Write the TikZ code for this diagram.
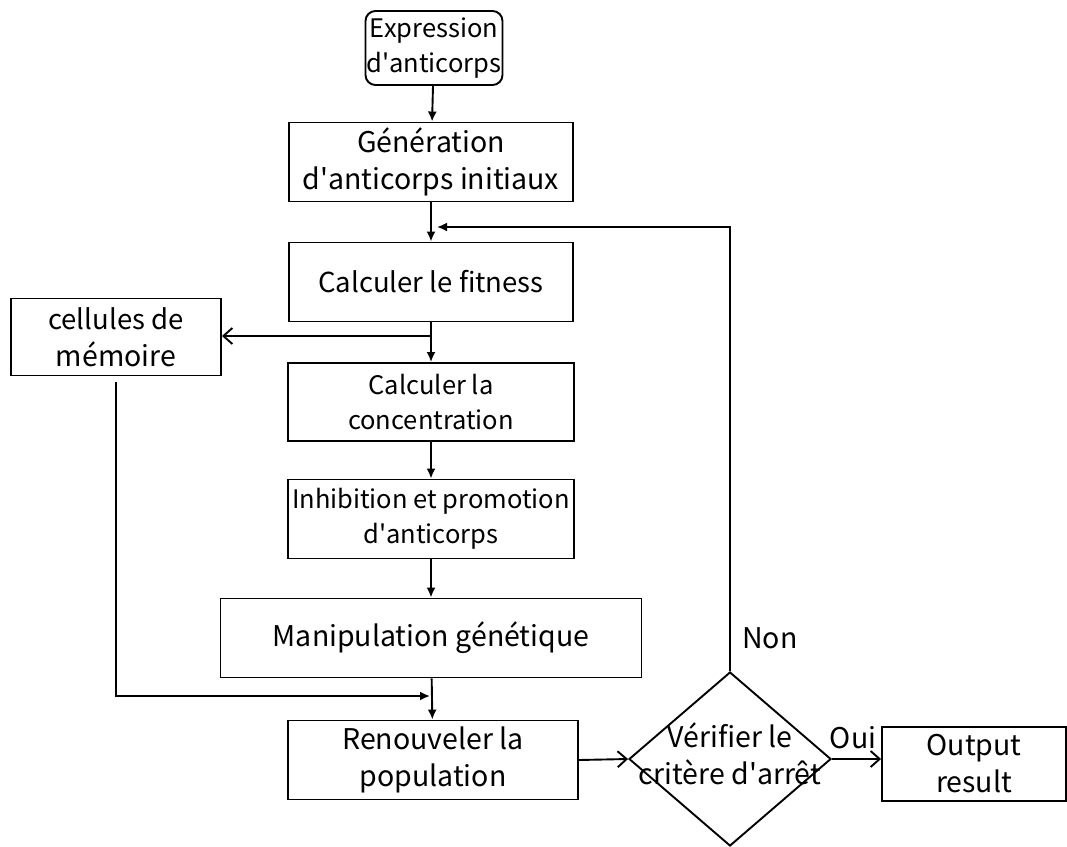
\documentclass[tikz,border=0pt]{standalone}
\usepackage{fontspec}
\setmainfont{Noto Sans CJK SC}[Ligatures=TeXOff]
\usetikzlibrary{arrows.meta,shapes.geometric}

\begin{document}
\begin{tikzpicture}[x=1pt,y=-1pt,line width=1.9pt,
    box/.style={draw,rectangle,minimum height=79pt,align=center,inner sep=0pt},
    big/.style={font=\fontsize{28.5}{37}\selectfont},
    small/.style={font=\fontsize{25.5}{35}\selectfont},
    fillarrow/.style={-{Latex[length=10pt,width=9pt]}},
    openarrow/.style={-{Straight Barb[length=9pt,width=16pt]}}]%% start picture
    \useasboundingbox (0,0) rectangle (1067,846);

        \node[box,rounded corners=10pt,small,minimum width=137pt,minimum height=74pt] (expr) at (434,48) {Expression\\d'anticorps};
        \node[box,big,minimum width=284pt] (gen) at (431,162) {Génération\\d'anticorps initiaux};
        \node[box,big,minimum width=284pt] (fit) at (431,282) {\fontsize{27.5}{33}\selectfont Calculer le fitness};
        \node[box,big,minimum width=210pt,minimum height=77pt] (mem) at (116,337) {\fontsize{27.5}{38}\selectfont cellules de\\mémoire};
        \node[box,small,minimum width=286pt,minimum height=78pt] (conc) at (431,402) {Calculer la\\concentration};
        \node[box,small,minimum width=286pt] (inh) at (431,519) {Inhibition et promotion\\d'anticorps};
        \node[box,big,minimum width=421pt] (manip) at (431,638) {Manipulation génétique};
        \node[box,big,minimum width=290pt] (renouv) at (433,760) {Renouveler la\\population};
        \node[draw,diamond,minimum width=202pt,minimum height=174pt,inner sep=0pt,
              label={[big,align=center,yshift=5pt]center:Vérifier le\\critère d'arrêt}] (dia) at (730,759) {};
        \node[box,big,minimum width=184pt,minimum height=74pt] (out) at (974,764) {Output\\result};

        \node[big,anchor=west] (non) at (738,638) {Non};
        \node[big,anchor=south] (oui) at (853,753) {Oui};

        \coordinate (split) at (fit.south |- 0,336);
        \coordinate (join) at (430,696);
        \coordinate (back) at (437,227);

    %% arrows
        \draw[fillarrow] (expr) -- (gen);
        \draw[fillarrow] (gen) -- (fit);
        \draw[fillarrow] (fit) -- (conc);
        \draw[openarrow] (split) -- (split -| mem.east);
        \draw[fillarrow] (conc) -- (inh);
        \draw[fillarrow] (inh) -- (manip);
        \draw[fillarrow] (manip) -- (renouv);
        \draw[fillarrow,shorten <=6pt] (mem.south) |- (join);
        \draw[openarrow] (renouv.east) -- (dia.west);
        \draw[openarrow] (dia.east) -- (dia.east -| out.west);
        \draw[fillarrow] (dia.north) |- (back);

\end{tikzpicture}
\end{document}
